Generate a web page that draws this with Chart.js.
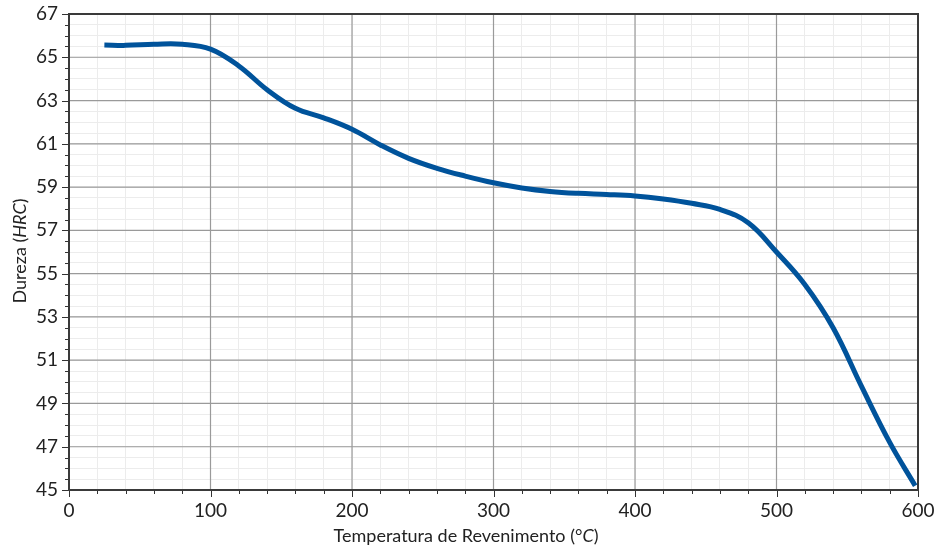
<!DOCTYPE html>
<html>
<head>
<meta charset="utf-8">
<script src="https://cdn.jsdelivr.net/npm/chart.js@4"></script>
<style>
    html, body { margin: 0; padding: 0; background: #fff; }
    #wrap { width: 936px; height: 547px; }
</style>
</head>
<body>
<div id="wrap"><canvas id="hardness-chart" width="936" height="547"></canvas></div>
<script>
// Temperatura de revenimento (°C)
const temperatures = [25, 40, 60, 80, 100, 120, 140, 160, 180, 200, 220, 240, 260, 280, 300, 320, 340, 360, 380, 400, 420, 440, 460, 480, 500, 520, 540, 560, 580, 598];
// Dureza HRC
const hardness = [65.57, 65.55, 65.6, 65.6, 65.38, 64.6, 63.5, 62.64, 62.2, 61.67, 60.95, 60.33, 59.87, 59.51, 59.2, 58.96, 58.8, 58.71, 58.66, 58.59, 58.45, 58.25, 57.97, 57.35, 56.0, 54.5, 52.5, 49.8, 47.2, 45.2];

const xMin = 0, xMax = 600, xMajor = 100, xMinor = 20;
const yMin = 45, yMax = 67, yMajor = 2, yMinor = 0.5;

const FONT = 'Lato, "DejaVu Sans", sans-serif';
const isMajor = (v, base, step) => Math.abs(((v - base) / step) - Math.round((v - base) / step)) < 1e-6;

// Major grid lines drawn above the minor ones
const majorGrid = {
    id: 'majorGrid',
    beforeDatasetsDraw(chart) {
        const { ctx, chartArea: a, scales: { x, y } } = chart;
        ctx.save();
        ctx.strokeStyle = '#9a9a9a';
        ctx.lineWidth = 1.2;
        for (let v = xMin; v <= xMax; v += xMajor) {
            const px = x.getPixelForValue(v);
            ctx.beginPath(); ctx.moveTo(px, a.top); ctx.lineTo(px, a.bottom); ctx.stroke();
        }
        for (let v = yMin; v <= yMax; v += yMajor) {
            const py = y.getPixelForValue(v);
            ctx.beginPath(); ctx.moveTo(a.left, py); ctx.lineTo(a.right, py); ctx.stroke();
        }
        ctx.restore();
    }
};

// Frame, tick marks and axis titles (titles have italic parts)
const decorations = {
    id: 'decorations',
    afterDraw(chart) {
        const { ctx, chartArea: a, scales: { x, y } } = chart;
        ctx.save();
        ctx.strokeStyle = '#333';
        ctx.lineWidth = 1;
        // x tick marks
        for (let v = xMin; v <= xMax + 1e-6; v += xMinor) {
            const px = Math.round(x.getPixelForValue(v)) + 0.5;
            const len = isMajor(v, xMin, xMajor) ? 7 : 4;
            ctx.beginPath(); ctx.moveTo(px, a.bottom); ctx.lineTo(px, a.bottom + len); ctx.stroke();
        }
        // y tick marks
        for (let v = yMin; v <= yMax + 1e-6; v += yMinor) {
            const py = Math.round(y.getPixelForValue(v)) + 0.5;
            const len = isMajor(v, yMin, yMajor) ? 7 : 4;
            ctx.beginPath(); ctx.moveTo(a.left - len, py); ctx.lineTo(a.left, py); ctx.stroke();
        }
        // frame
        ctx.lineWidth = 2;
        ctx.strokeStyle = '#3a3a3a';
        ctx.strokeRect(a.left, a.top, a.right - a.left, a.bottom - a.top);

        // axis titles
        ctx.fillStyle = '#222';
        ctx.textBaseline = 'middle';
        const drawParts = (parts, cx, cy, rot) => {
            ctx.save();
            ctx.translate(cx, cy);
            ctx.rotate(rot);
            let total = 0;
            parts.forEach(p => { ctx.font = p.font; total += ctx.measureText(p.t).width; });
            let pos = -total / 2;
            ctx.textAlign = 'left';
            parts.forEach(p => { ctx.font = p.font; ctx.fillText(p.t, pos, 0); pos += ctx.measureText(p.t).width; });
            ctx.restore();
        };
        const n = '18px ' + FONT, it = 'italic 18px ' + FONT;
        drawParts([{ t: 'Temperatura de Revenimento (°', font: n }, { t: 'C', font: it }, { t: ')', font: n }], 466, 536, 0);
        drawParts([{ t: 'Dureza (', font: n }, { t: 'HRC', font: it }, { t: ')', font: n }], 20, 251, -Math.PI / 2);
        ctx.restore();
    }
};

new Chart(document.getElementById('hardness-chart').getContext('2d'), {
    type: 'line',
    data: {
        datasets: [{
            data: temperatures.map((t, i) => ({ x: t, y: hardness[i] })),
            borderColor: '#00539b',
            borderWidth: 5,
            pointRadius: 0,
            tension: 0.4,
            borderCapStyle: 'butt',
            fill: false
        }]
    },
    options: {
        responsive: false,
        animation: false,
        layout: { padding: { top: 14, right: 18, left: 0, bottom: 0 } },
        plugins: { legend: { display: false }, tooltip: { enabled: false } },
        scales: {
            x: {
                type: 'linear',
                min: xMin, max: xMax,
                afterFit: (s) => { s.height = 57; s.paddingLeft = 0; s.paddingRight = 0; },
                ticks: {
                    stepSize: xMinor,
                    autoSkip: false,
                    maxRotation: 0,
                    padding: 9,
                    color: '#222',
                    font: { family: FONT, size: 19 },
                    callback: (v) => isMajor(v, xMin, xMajor) ? String(v) : ''
                },
                grid: {
                    drawTicks: false,
                    color: '#ececec',
                    lineWidth: 1
                },
                border: { display: false }
            },
            y: {
                type: 'linear',
                min: yMin, max: yMax,
                afterFit: (s) => { s.width = 69; s.paddingTop = 0; s.paddingBottom = 0; },
                ticks: {
                    stepSize: yMinor,
                    autoSkip: false,
                    padding: 11,
                    color: '#222',
                    font: { family: FONT, size: 19 },
                    callback: (v) => isMajor(v, yMin, yMajor) ? String(v) : ''
                },
                grid: {
                    drawTicks: false,
                    color: '#ececec',
                    lineWidth: 1
                },
                border: { display: false }
            }
        }
    },
    plugins: [majorGrid, decorations]
});
</script>
</body>
</html>
